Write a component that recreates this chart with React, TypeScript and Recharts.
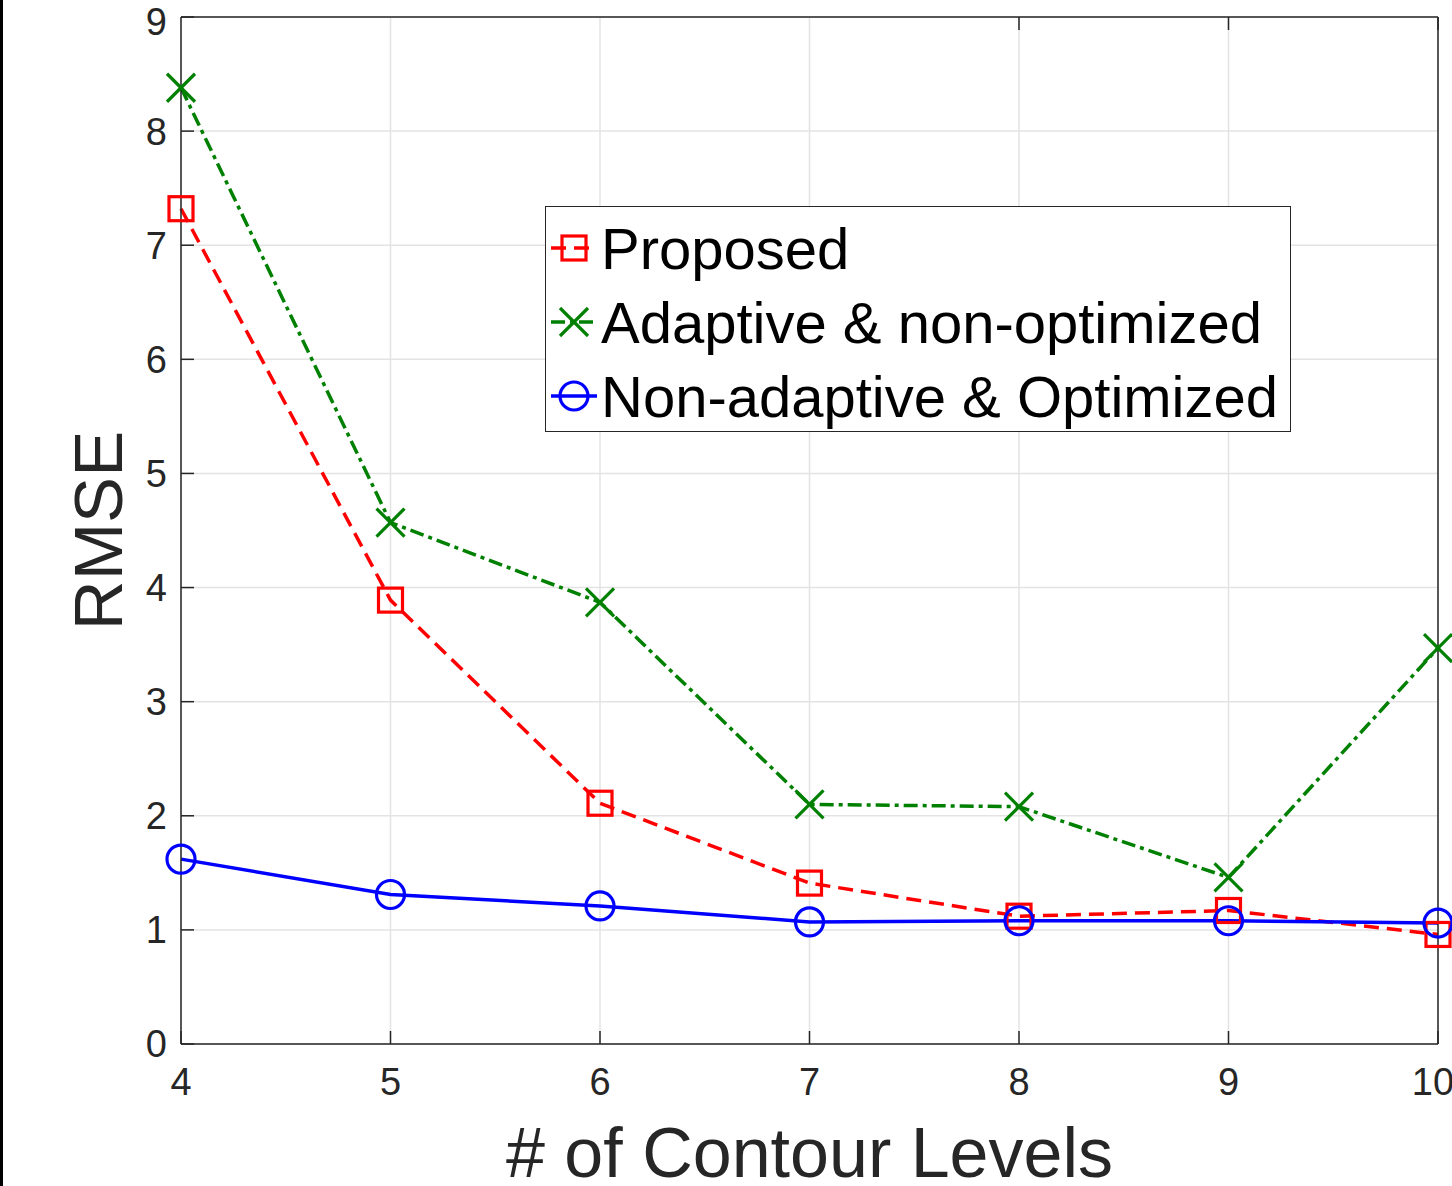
import React from 'react';
import { LineChart, Line, XAxis, YAxis, CartesianGrid, Legend } from 'recharts';

const contourLevels = [4, 5, 6, 7, 8, 9, 10];
const proposed = [7.32, 3.89, 2.11, 1.41, 1.12, 1.17, 0.96];
const adaptiveNonOptimized = [8.38, 4.57, 3.87, 2.1, 2.08, 1.46, 3.47];
const nonAdaptiveOptimized = [1.62, 1.31, 1.21, 1.07, 1.08, 1.08, 1.06];
const xTicks = [4, 5, 6, 7, 8, 9, 10];
const yTicks = [0, 1, 2, 3, 4, 5, 6, 7, 8, 9];
const seriesKeys = ['proposed', 'adaptive', 'nonAdaptive'];
const seriesNames = ['Proposed', 'Adaptive & non-optimized', 'Non-adaptive & Optimized'];
const xLabel = '# of Contour Levels';
const yLabel = 'RMSE';

const data = contourLevels.map((x, i) => ({
  x,
  proposed: proposed[i],
  adaptive: adaptiveNonOptimized[i],
  nonAdaptive: nonAdaptiveOptimized[i],
}));

const FONT = '"Liberation Sans", Arial, Helvetica, sans-serif';
const RED = '#FF0000';
const GREEN = '#008000';
const BLUE = '#0000FF';
const AXIS = '#262626';
const GRID = '#e3e3e3';
const RED_DASH = '15 8';
const GREEN_DASH = '14 5 4 5';
const LW = 3.5;
const MW = 3.2;

const SquareMark = ({ cx, cy }: any) => (
  <rect x={cx - 12} y={cy - 12} width={24} height={24} fill="none" stroke={RED} strokeWidth={MW} strokeDasharray="none" />
);
const CrossMark = ({ cx, cy }: any) => (
  <g>
    <line x1={cx - 14} y1={cy - 14} x2={cx + 14} y2={cy + 14} stroke={GREEN} strokeWidth={MW} strokeDasharray="none" />
    <line x1={cx - 14} y1={cy + 14} x2={cx + 14} y2={cy - 14} stroke={GREEN} strokeWidth={MW} strokeDasharray="none" />
  </g>
);
const CircleMark = ({ cx, cy }: any) => (
  <circle cx={cx} cy={cy} r={14} fill="none" stroke={BLUE} strokeWidth={MW} />
);

const legendStyles: Record<string, any> = {
  proposed: { color: RED, dash: RED_DASH, Mark: SquareMark },
  adaptive: { color: GREEN, dash: GREEN_DASH, Mark: CrossMark },
  nonAdaptive: { color: BLUE, dash: undefined, Mark: CircleMark },
};

const renderLegend = () => (
  <svg width={746} height={226} style={{ display: 'block' }}>
    <rect x={0.5} y={0.5} width={745} height={225} fill="#ffffff" stroke={AXIS} strokeWidth={1} />
    {seriesKeys.map((key, i) => {
      const st = legendStyles[key];
      const cy = 42 + i * 74;
      const M = st.Mark;
      return (
        <g key={`lg-${i}`}>
          <line x1={6} x2={52} y1={cy} y2={cy} stroke={st.color} strokeWidth={LW} strokeDasharray={st.dash} />
          <M cx={29} cy={cy} />
          <text x={56} y={cy + 21} fontSize={58} fill="#000000" fontFamily={FONT}>
            {seriesNames[i]}
          </text>
        </g>
      );
    })}
  </svg>
);

const tickStyle = { fontSize: 38, fill: AXIS, fontFamily: FONT };
const axisLineStyle = { stroke: AXIS, strokeWidth: 1.5 };

export default function App() {
  return (
    <div style={{ position: 'absolute', left: 0, top: 0, width: 1452, height: 1186, background: '#ffffff', fontFamily: FONT, overflow: 'hidden' }}>
      <div style={{ position: 'absolute', left: 0, top: 0, width: 3, height: 1186, background: '#000000', zIndex: 2 }} />
      <LineChart width={1452} height={1186} data={data} margin={{ top: 16, right: 13, bottom: 141, left: 180 }}>
        <CartesianGrid stroke={GRID} strokeWidth={1.5} />
        <XAxis
          dataKey="x"
          type="number"
          domain={[4, 10]}
          ticks={xTicks}
          height={1}
          tickSize={-13}
          tickMargin={37}
          tick={tickStyle}
          stroke={AXIS}
          axisLine={axisLineStyle}
          tickLine={axisLineStyle}
          label={{
            value: xLabel,
            content: (p: any) => {
              const vb = p.viewBox || {};
              return (
                <text x={vb.x + vb.width / 2} y={1177} textAnchor="middle" fontSize={70} fill={AXIS} fontFamily={FONT}>
                  {xLabel}
                </text>
              );
            },
          }}
        />
        <XAxis
          xAxisId="top"
          orientation="top"
          type="number"
          domain={[4, 10]}
          ticks={xTicks}
          height={1}
          tickSize={-13}
          tickFormatter={() => ''}
          stroke={AXIS}
          axisLine={axisLineStyle}
          tickLine={axisLineStyle}
        />
        <YAxis
          type="number"
          domain={[0, 9]}
          ticks={yTicks}
          width={1}
          tickSize={-13}
          tickMargin={27}
          tick={tickStyle}
          stroke={AXIS}
          axisLine={axisLineStyle}
          tickLine={axisLineStyle}
          label={{
            value: yLabel,
            content: (p: any) => {
              const vb = p.viewBox || {};
              const cx = 122;
              const cy = vb.y + vb.height / 2;
              return (
                <text x={cx} y={cy} textAnchor="middle" fontSize={69} fill={AXIS} fontFamily={FONT} transform={`rotate(-90, ${cx}, ${cy})`}>
                  {yLabel}
                </text>
              );
            },
          }}
        />
        <YAxis
          yAxisId="right"
          orientation="right"
          type="number"
          domain={[0, 9]}
          ticks={yTicks}
          width={1}
          tickSize={-13}
          tickFormatter={() => ''}
          stroke={AXIS}
          axisLine={axisLineStyle}
          tickLine={axisLineStyle}
        />
        <Legend
          layout="vertical"
          align="center"
          verticalAlign="middle"
          content={renderLegend}
          wrapperStyle={{ left: 545, top: 206, width: 746, height: 226, margin: 0 }}
        />
        <Line
          dataKey="proposed"
          name={seriesNames[0]}
          stroke={RED}
          strokeWidth={LW}
          strokeDasharray={RED_DASH}
          isAnimationActive={false}
          dot={(p: any) => <SquareMark key={`sq-${p.index}`} cx={p.cx} cy={p.cy} />}
          activeDot={false}
        />
        <Line
          dataKey="adaptive"
          name={seriesNames[1]}
          stroke={GREEN}
          strokeWidth={LW}
          strokeDasharray={GREEN_DASH}
          isAnimationActive={false}
          dot={(p: any) => <CrossMark key={`cr-${p.index}`} cx={p.cx} cy={p.cy} />}
          activeDot={false}
        />
        <Line
          dataKey="nonAdaptive"
          name={seriesNames[2]}
          stroke={BLUE}
          strokeWidth={LW}
          isAnimationActive={false}
          dot={(p: any) => <CircleMark key={`ci-${p.index}`} cx={p.cx} cy={p.cy} />}
          activeDot={false}
        />
      </LineChart>
    </div>
  );
}
